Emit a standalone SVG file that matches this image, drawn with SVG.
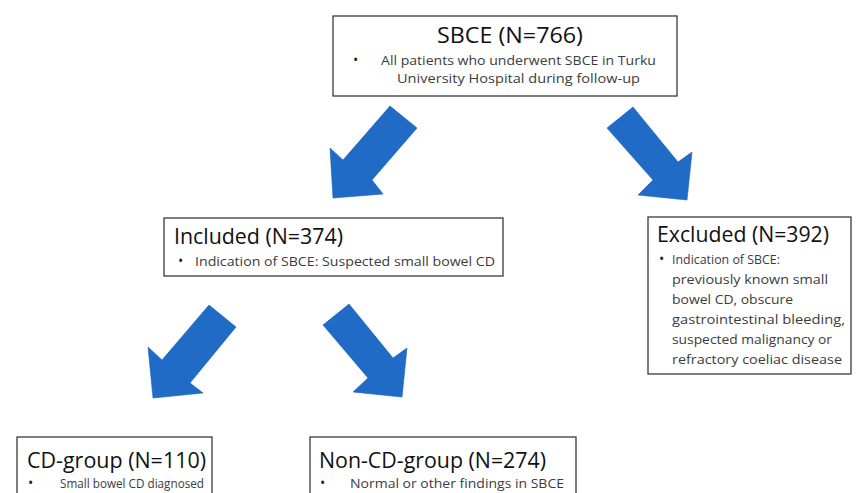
<svg xmlns="http://www.w3.org/2000/svg" width="857" height="493" viewBox="0 0 857 493">
<style>
.box{fill:#fff;stroke:#3a3a3a;stroke-width:1.3}
.t{font-family:"Open Sans","Liberation Sans",sans-serif;fill:#111}
.title{font-size:21px}
.b{font-size:13.5px;fill:#3c3c3c}
.dot{font-size:14px;fill:#222}
.arr{fill:#1f6bc6;stroke:#1a5fb4;stroke-width:0.6}
</style>
<rect width="857" height="493" fill="#fff"/>
<g id="connectors">
<polygon class="arr" points="390,106 417,128 372,180 383,194 333,198 330,148 343,160"/>
<polygon class="arr" points="633,107 607,128 653,180 638,195 687,200 692,152 678,162"/>
<polygon class="arr" points="209,305 236,327 190,383 203,393 153,398 148,347 162,360"/>
<polygon class="arr" points="349,304 323,325 368,378 353,392 402,397 407,348 393,358"/>
</g>
<g id="sbce">
<rect class="box" x="333" y="16" width="344" height="80"/>
<text class="t title" x="437" y="43" textLength="146" lengthAdjust="spacingAndGlyphs">SBCE (N=766)</text>
<text class="t dot" x="353" y="65">•</text>
<text class="t b" x="381" y="65" textLength="275" lengthAdjust="spacingAndGlyphs">All patients who underwent  SBCE in Turku</text>
<text class="t b" x="397" y="83" textLength="243" lengthAdjust="spacingAndGlyphs">University Hospital during follow-up</text>
</g>
<g id="included">
<rect class="box" x="164" y="218" width="339" height="58"/>
<text class="t title" x="174" y="244" textLength="169" lengthAdjust="spacingAndGlyphs">Included (N=374)</text>
<text class="t dot" x="178" y="266">•</text>
<text class="t b" x="195" y="266" textLength="300" lengthAdjust="spacingAndGlyphs">Indication of SBCE: Suspected  small bowel CD</text>
</g>
<g id="excluded">
<rect class="box" x="648" y="217" width="203" height="157"/>
<text class="t title" x="657" y="242" textLength="172" lengthAdjust="spacingAndGlyphs">Excluded (N=392)</text>
<text class="t dot" x="659" y="264">•</text>
<text class="t b" x="672" y="264" textLength="108" lengthAdjust="spacingAndGlyphs">Indication of SBCE:</text>
<text class="t b" x="672" y="284" textLength="156" lengthAdjust="spacingAndGlyphs">previously known  small</text>
<text class="t b" x="672" y="304" textLength="121" lengthAdjust="spacingAndGlyphs">bowel CD, obscure</text>
<text class="t b" x="672" y="324" textLength="173" lengthAdjust="spacingAndGlyphs">gastrointestinal bleeding,</text>
<text class="t b" x="672" y="344" textLength="160" lengthAdjust="spacingAndGlyphs">suspected malignancy or</text>
<text class="t b" x="672" y="364" textLength="170" lengthAdjust="spacingAndGlyphs">refractory coeliac disease</text>
</g>
<g id="cdgroup">
<rect class="box" x="17" y="437" width="195" height="70"/>
<text class="t title" x="27" y="468" textLength="179" lengthAdjust="spacingAndGlyphs">CD-group (N=110)</text>
<text class="t dot" x="28" y="488">•</text>
<text class="t b" x="60" y="488" textLength="144" lengthAdjust="spacingAndGlyphs">Small bowel CD diagnosed</text>
</g>
<g id="noncdgroup">
<rect class="box" x="310" y="437" width="266" height="70"/>
<text class="t title" x="319" y="468" textLength="227" lengthAdjust="spacingAndGlyphs">Non-CD-group (N=274)</text>
<text class="t dot" x="320" y="488">•</text>
<text class="t b" x="350" y="488" textLength="214" lengthAdjust="spacingAndGlyphs">Normal or other findings in SBCE</text>
</g>
</svg>
